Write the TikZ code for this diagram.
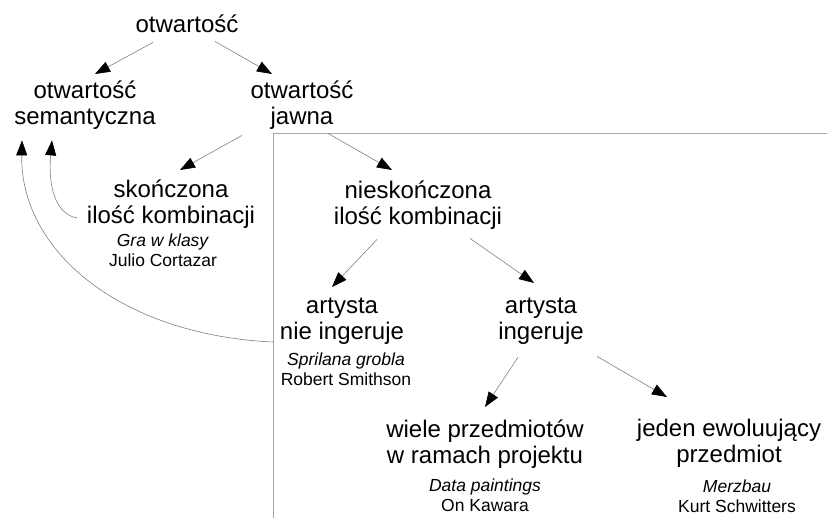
\documentclass[tikz,border=0pt]{standalone}
\usepackage{fontspec}
\setmainfont{Liberation Sans}
\usetikzlibrary{arrows.meta,calc}
\newcommand{\bigstrut}{\rule[-8pt]{0pt}{26pt}}
\newcommand{\smallstrut}{\rule[-6pt]{0pt}{20pt}}
\tikzset{
  main/.style={anchor=north, inner sep=0pt, align=center, font=\fontsize{24}{26}\selectfont},
  sub/.style={anchor=north, inner sep=0pt, align=center, font=\fontsize{17.5}{20}\selectfont},
  arr/.style={draw=black!50, line width=0.6pt, -{Triangle[length=15pt,width=11pt,color=black,fill=black]}},
  frame/.style={draw=black!35, line width=0.9pt}
}
\begin{document}
\begin{tikzpicture}[x=1pt,y=-1pt]
\useasboundingbox (0,0) rectangle (827,518);
% frame lines
\coordinate (fc) at (273,133);
\coordinate (fr) at (827,133);
\coordinate (fb) at (273,518);
\draw[frame] (fr) -- (fc) -- (fb);
% nodes
\node[main] (top) at (187,14) {\bigstrut otwartość};
\node[main] (sem) at (85,80) {\bigstrut otwartość\\\bigstrut semantyczna};
\node[main] (jaw) at (302,80) {\bigstrut otwartość\\\bigstrut jawna};
\node[main] (sko) at (171,179) {\bigstrut skończona\\\bigstrut ilość kombinacji};
\node[sub]  (skoT) at (163,232) {\smallstrut\textit{Gra w klasy}\\\smallstrut Julio Cortazar};
\node[main] (nie) at (418,180) {\bigstrut nieskończona\\\bigstrut ilość kombinacji};
\node[main] (ani) at (342,295) {\bigstrut artysta\\\bigstrut nie ingeruje};
\node[sub]  (aniT) at (346,351) {\smallstrut\textit{Sprilana grobla}\\\smallstrut Robert Smithson};
\node[main] (ain) at (541,295) {\bigstrut artysta\\\bigstrut ingeruje};
\node[main] (wie) at (485,419) {\bigstrut wiele przedmiotów\\\bigstrut w ramach projektu};
\node[sub]  (wieT) at (485,477) {\smallstrut\textit{Data paintings}\\\smallstrut On Kawara};
\node[main] (jed) at (729,418) {\bigstrut jeden ewoluujący\\\bigstrut przedmiot};
\node[sub]  (jedT) at (737,478) {\smallstrut\textit{Merzbau}\\\smallstrut Kurt Schwitters};
% connectors
\draw[arr] ($(top.south)+(-34,2)$) -- ($(sem.north)+(10,-6)$);
\draw[arr] ($(top.south)+(28,1)$) -- ($(jaw.north)+(-30,-6)$);
\draw[arr] ($(jaw.south)+(-60,3)$) -- ($(sko.north)+(9,-9)$);
\draw[arr] ($(jaw.south)+(26,1)$) -- ($(nie.north)+(-26,-10)$);
\draw[arr] ($(nie.south)+(-41,7)$) -- ($(ani.north)+(-10,-8)$);
\draw[arr] ($(nie.south)+(52,6)$) -- ($(ain.north)+(-7,-12)$);
\draw[arr] ($(ain.south)+(-23,10)$) -- ($(wie.north)+(0,-12)$);
\draw[arr] ($(ain.south)+(56,9)$) -- ($(jed.north)+(-62,-21)$);
\draw[arr] ($(sko.north)+(-94,39)$) .. controls +(-22,-4) and +(-4,45) .. ($(sem.south)+(-33,8)$);
\draw[arr] ($(ani.north)+(-69,47)$) .. controls +(-153,-7) and +(-2,110) .. ($(sem.south)+(-63,8)$);
\end{tikzpicture}
\end{document}
